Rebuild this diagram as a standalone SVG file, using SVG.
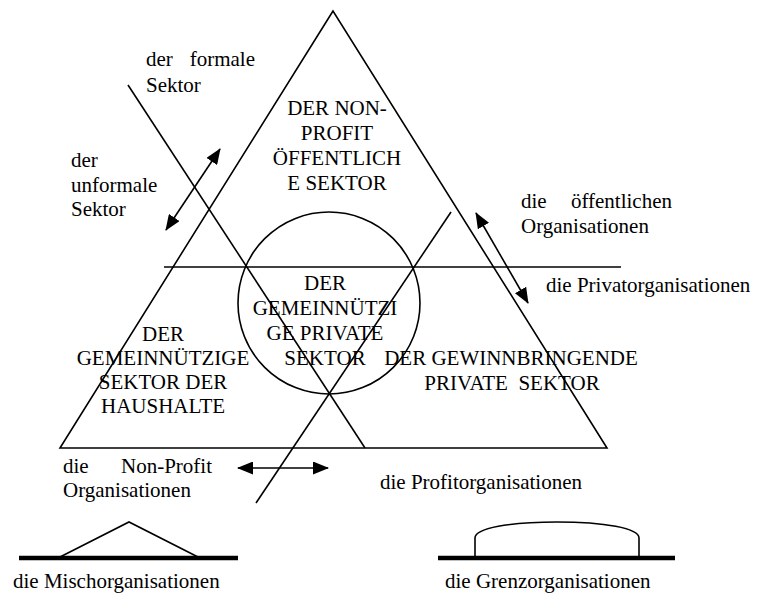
<svg xmlns="http://www.w3.org/2000/svg" width="758" height="596" viewBox="0 0 758 596">
<style>
text{font-family:"Liberation Serif","Times New Roman",serif;font-size:21px;fill:#000}
.c{text-anchor:middle}
.e{text-anchor:end}
.ln{stroke:#000;stroke-width:1.6;fill:none}
.thick{stroke:#000;stroke-width:4.5;fill:none}
.arr{stroke:#000;stroke-width:1.6;fill:none;marker-start:url(#ah);marker-end:url(#ah)}
</style>
<defs>
<marker id="ah" markerUnits="userSpaceOnUse" markerWidth="16" markerHeight="13" refX="15" refY="6.5" orient="auto-start-reverse">
<path d="M0,0 L16,6.5 L0,13 z" fill="#000"/>
</marker>
</defs>
<rect width="758" height="596" fill="#fff"/>
<g id="connectors">
<polygon class="ln" points="333,11 60,448 607,448"/>
<line class="ln" x1="164" y1="267" x2="621" y2="267"/>
<line class="ln" x1="128" y1="85" x2="365" y2="448"/>
<line class="ln" x1="451" y1="212" x2="256" y2="503"/>
<line class="arr" x1="166" y1="230" x2="220" y2="149"/>
<line class="arr" x1="476" y1="213" x2="528" y2="303"/>
<line class="arr" x1="238" y1="468" x2="328" y2="468"/>
</g>
<g id="circle-sector">
<circle class="ln" cx="329" cy="303" r="91"/>
<text class="c" x="325" y="290">DER</text>
<text class="c" x="325" y="315">GEMEINNÜTZI</text>
<text class="c" x="325" y="340">GE PRIVATE</text>
<text class="c" x="325" y="365">SEKTOR</text>
</g>
<g id="public-sector">
<text class="c" x="337" y="115">DER NON-</text>
<text class="c" x="337" y="140">PROFIT</text>
<text class="c" x="337" y="165">ÖFFENTLICH</text>
<text class="c" x="337" y="190">E SEKTOR</text>
</g>
<g id="household-sector">
<text class="c" x="163" y="341">DER</text>
<text class="c" x="163" y="365">GEMEINNÜTZIGE</text>
<text class="c" x="163" y="389">SEKTOR DER</text>
<text class="c" x="163" y="413">HAUSHALTE</text>
</g>
<g id="profit-sector">
<text class="c" x="511" y="365">DER GEWINNBRINGENDE</text>
<text class="c" x="512" y="390" xml:space="preserve">PRIVATE  SEKTOR</text>
</g>
<g id="formal">
<text x="146" y="66">der</text>
<text class="e" x="255" y="66">formale</text>
<text x="146" y="92">Sektor</text>
</g>
<g id="informal">
<text x="71" y="167">der</text>
<text x="71" y="192">unformale</text>
<text x="71" y="216">Sektor</text>
</g>
<g id="public-orgs">
<text x="521" y="208">die</text>
<text class="e" x="672" y="208">öffentlichen</text>
<text x="521" y="233">Organisationen</text>
</g>
<g id="private-orgs">
<text x="546" y="292">die Privatorganisationen</text>
</g>
<g id="nonprofit-orgs">
<text x="63" y="473">die</text>
<text class="e" x="212" y="473">Non-Profit</text>
<text x="63" y="497">Organisationen</text>
</g>
<g id="profit-orgs">
<text x="380" y="489">die Profitorganisationen</text>
</g>
<g id="mixed-orgs">
<line class="thick" x1="19" y1="558" x2="238" y2="558"/>
<polyline class="ln" points="60,557 129,522 198,557"/>
<text x="13" y="588">die Mischorganisationen</text>
</g>
<g id="border-orgs">
<line class="thick" x1="438" y1="558" x2="675" y2="558"/>
<path class="ln" d="M475,557 L475,538 C475,528 510,522 557,522 C604,522 639,528 639,538 L639,557"/>
<text x="445" y="588">die Grenzorganisationen</text>
</g>
</svg>
